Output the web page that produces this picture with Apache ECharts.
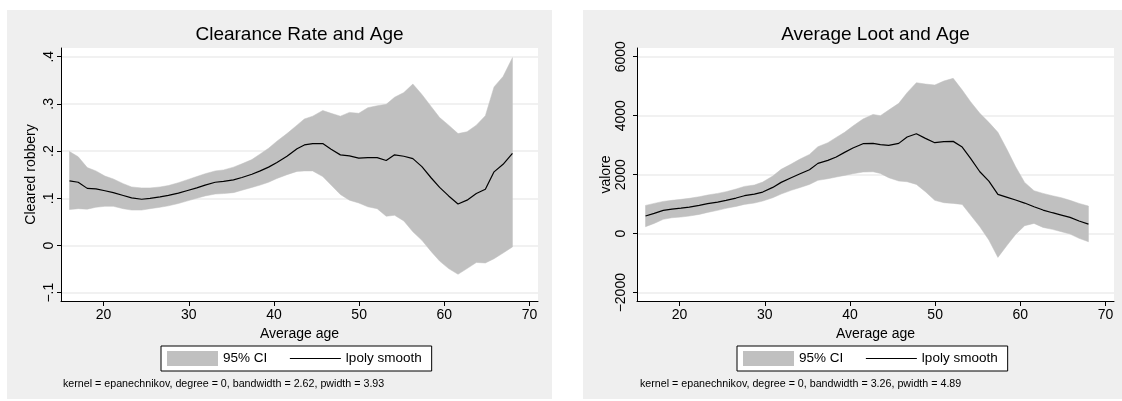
<!DOCTYPE html>
<html><head><meta charset="utf-8">
<script src="https://cdn.jsdelivr.net/npm/echarts@6/dist/echarts.min.js"></script>
<style>html,body{margin:0;padding:0;background:#fff}#c{width:1122px;height:401px}</style>
</head><body><div id="c"></div>
<script>
// ---- data ----
const ages = [16.00,17.02,18.08,19.10,20.16,21.14,22.31,23.29,24.47,25.45,26.63,27.61,28.78,29.76,30.94,31.92,33.10,34.08,35.25,36.24,37.41,38.39,39.37,40.35,41.53,42.71,43.57,44.55,45.73,46.71,47.80,48.86,49.96,51.02,52.12,53.18,54.16,55.25,56.31,57.37,58.47,59.45,60.51,61.61,62.67,63.76,64.82,65.84,66.90,68.00];

const clearSmooth = [0.137,0.134,0.121,0.120,0.116,0.112,0.106,0.101,0.098,0.100,0.103,0.106,0.111,0.116,0.122,0.128,0.134,0.136,0.139,0.144,0.151,0.158,0.166,0.176,0.189,0.205,0.213,0.216,0.216,0.204,0.192,0.190,0.185,0.186,0.186,0.180,0.192,0.189,0.184,0.167,0.143,0.123,0.105,0.088,0.096,0.110,0.119,0.156,0.172,0.195];
const clearHi = [0.199,0.188,0.165,0.158,0.147,0.141,0.131,0.124,0.122,0.122,0.124,0.127,0.133,0.139,0.146,0.152,0.158,0.160,0.166,0.173,0.182,0.194,0.206,0.221,0.237,0.255,0.268,0.274,0.286,0.280,0.274,0.282,0.280,0.292,0.296,0.299,0.314,0.324,0.342,0.320,0.294,0.271,0.255,0.237,0.241,0.255,0.275,0.336,0.358,0.398];
const clearLo = [0.076,0.078,0.077,0.081,0.083,0.083,0.078,0.075,0.075,0.078,0.081,0.084,0.089,0.094,0.100,0.105,0.109,0.110,0.112,0.117,0.123,0.128,0.134,0.142,0.150,0.157,0.158,0.158,0.146,0.128,0.108,0.096,0.090,0.082,0.078,0.062,0.064,0.052,0.029,0.011,-0.013,-0.033,-0.049,-0.061,-0.049,-0.036,-0.037,-0.028,-0.016,-0.003];

const lootSmooth = [599,689,791,836,870,904,960,1017,1073,1130,1209,1288,1344,1412,1570,1740,1898,2022,2169,2384,2486,2599,2757,2904,3051,3060,3017,2994,3062,3277,3390,3232,3085,3119,3130,2938,2553,2101,1785,1333,1231,1141,1039,915,802,712,632,553,429,327];
const lootHi = [960,1028,1096,1130,1164,1198,1254,1311,1367,1424,1514,1604,1650,1751,1955,2181,2361,2520,2689,2949,3085,3265,3435,3650,3887,4045,4000,4192,4418,4780,5119,5073,5040,5175,5266,4870,4475,4079,3774,3435,2836,2271,1740,1457,1367,1288,1220,1130,1028,938];
const lootLo = [237,350,486,542,565,599,655,723,791,859,926,994,1039,1107,1220,1344,1469,1559,1672,1808,1864,1921,1977,2034,2090,2100,2045,1898,1785,1762,1672,1424,1130,1051,1028,994,632,237,-215,-803,-384,-23,271,350,214,147,68,-11,-158,-271];

const xTicks = [20,30,40,50,60,70];
const yTicksL = [-0.1,0,0.1,0.2,0.3,0.4];
const yLabelsL = ['\u2212.1','0','.1','.2','.3','.4'];
const yTicksR = [-2000,0,2000,4000,6000];
const yLabelsR = ['\u22122000','0','2000','4000','6000'];

const titles = ['Clearance Rate and Age','Average Loot and Age'];
const yNames = ['Cleared robbery','valore'];
const xName = 'Average age';
const legendNames = ['95% CI','lpoly smooth'];
const notes = ['kernel = epanechnikov, degree = 0, bandwidth = 2.62, pwidth = 3.93',
               'kernel = epanechnikov, degree = 0, bandwidth = 3.26, pwidth = 4.89'];

// ---- chart ----
const FONT = '"Liberation Sans", Arial, Helvetica, sans-serif';
const BAND = '#c0c0c0';
const PANEL = '#efefef';
const chart = echarts.init(document.getElementById('c'), null, {renderer:'canvas'});

function lookup(ticks, labels) {
  return v => { for (let i = 0; i < ticks.length; i++) if (Math.abs(v - ticks[i]) < 1e-6) return labels[i]; return ''; };
}

const grids = [
  {left:61, top:48, width:477, height:253},
  {left:637, top:48, width:477, height:253}
].map(g => Object.assign({show:true, backgroundColor:'#fff', borderWidth:0, outerBoundsMode:'none', containLabel:false}, g));

function xAx(i) {
  return {
    type:'value', gridIndex:i, min:15, max:71,
    name:xName, nameLocation:'middle', nameGap:19,
    nameTextStyle:{fontFamily:FONT, fontSize:14, color:'#000'},
    axisLine:{show:true, onZero:false, lineStyle:{color:'#000', width:1}},
    axisTick:{show:true, length:5, customValues:xTicks, lineStyle:{color:'#000'}},
    axisLabel:{customValues:xTicks, margin:7, fontFamily:FONT, fontSize:14, color:'#000'},
    splitLine:{show:false}
  };
}
function yAx(i, min, max, ticks, labels, name, margin, gap) {
  return {
    type:'value', gridIndex:i, min:min, max:max,
    name:name, nameLocation:'middle', nameGap:gap, nameRotate:90,
    nameTextStyle:{fontFamily:FONT, fontSize:14, color:'#000'},
    axisLine:{show:true, onZero:false, lineStyle:{color:'#000', width:1}},
    axisTick:{show:true, length:4, customValues:ticks, lineStyle:{color:'#000'}},
    axisLabel:{customValues:ticks, rotate:90, margin:margin, formatter:lookup(ticks, labels), fontFamily:FONT, fontSize:14, color:'#000'},
    splitLine:{show:true, lineStyle:{color:'#ececec', width:1.5}}
  };
}

function bandSeries(idx, lo, hi, mid) {
  return [
    {type:'custom', name:legendNames[0], xAxisIndex:idx, yAxisIndex:idx, color:BAND, itemStyle:{color:BAND},
     data: ages.map((a,i)=>[a, lo[i], hi[i]]), encode:{x:0, y:[1,2]}, silent:true, z:2,
     renderItem: function(params, api) {
       if (params.dataIndex !== 0) return null;
       const pts = [];
       for (let i = 0; i < ages.length; i++) pts.push(api.coord([ages[i], hi[i]]));
       for (let i = ages.length - 1; i >= 0; i--) pts.push(api.coord([ages[i], lo[i]]));
       return {type:'polygon', shape:{points:pts}, style:{fill:BAND, stroke:BAND, lineWidth:0.5}};
     }},
    {type:'line', name:legendNames[1], xAxisIndex:idx, yAxisIndex:idx,
     data: ages.map((a,i)=>[a, mid[i]]), symbol:'none', color:'#000',
     lineStyle:{color:'#000', width:1.2}, silent:true, z:3}
  ];
}

function legendAt(left) {
  return {
    left:left, top:346, orient:'horizontal', padding:[5,10,5,6], itemGap:22,
    itemWidth:51, itemHeight:15, borderColor:'#000', borderWidth:1, borderRadius:0, backgroundColor:'#fff',
    selectedMode:false,
    data:[{name:legendNames[0], icon:'rect', itemStyle:{color:BAND}},
          {name:legendNames[1], itemStyle:{opacity:0}, lineStyle:{color:'#000', width:1.2}}],
    textStyle:{fontFamily:FONT, fontSize:13.5, color:'#000'}
  };
}

const option = {
  animation:false,
  backgroundColor:'#fff',
  grid: grids,
  xAxis: [xAx(0), xAx(1)],
  yAxis: [
    yAx(0, -0.1176, 0.4184, yTicksL, yLabelsL, yNames[0], 5, 23),
    yAx(1, -2281, 6295, yTicksR, yLabelsR, yNames[1], 9, 22)
  ],
  legend: [legendAt(161), legendAt(737)],
  series: [].concat(bandSeries(0, clearLo, clearHi, clearSmooth), bandSeries(1, lootLo, lootHi, lootSmooth)),
  graphic: [
    {type:'rect', z:-100, silent:true, shape:{x:7, y:10, width:545, height:389}, style:{fill:PANEL}},
    {type:'rect', z:-100, silent:true, shape:{x:583, y:10, width:539, height:389}, style:{fill:PANEL}},
    {type:'text', silent:true, x:299.5, y:35, style:{text:titles[0], fontFamily:FONT, fontSize:19, fill:'#000', align:'center', verticalAlign:'middle'}},
    {type:'text', silent:true, x:875.5, y:35, style:{text:titles[1], fontFamily:FONT, fontSize:19, fill:'#000', align:'center', verticalAlign:'middle'}},
    {type:'text', silent:true, x:63, y:384, style:{text:notes[0], fontFamily:FONT, fontSize:10.7, fill:'#000', align:'left', verticalAlign:'middle'}},
    {type:'text', silent:true, x:640, y:384, style:{text:notes[1], fontFamily:FONT, fontSize:10.7, fill:'#000', align:'left', verticalAlign:'middle'}}
  ]
};
chart.setOption(option);
</script>
</body></html>
